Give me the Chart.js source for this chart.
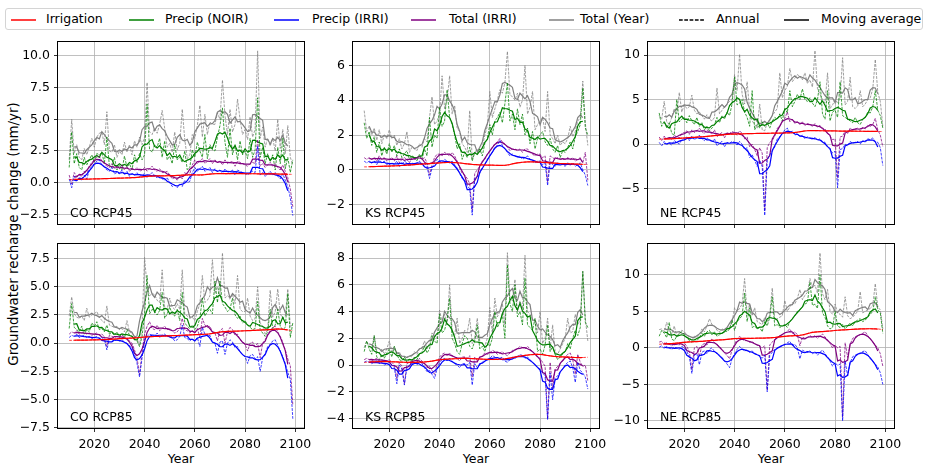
<!DOCTYPE html>
<html>
<head>
<meta charset="utf-8">
<script src="https://cdn.jsdelivr.net/npm/chart.js@4.4.0/dist/chart.umd.min.js"></script>
<style>
  body { margin: 0; background: #fff; width: 927px; height: 466px; position: relative; overflow: hidden;
         font-family: "DejaVu Sans", sans-serif; color: #000; }
  canvas { position: absolute; }
  #legend { position: absolute; left: 5px; top: 8px; width: 918px; height: 22px;
            border: 1px solid #d4d4d4; border-radius: 3px; box-sizing: border-box; }
  .lg-line { position: absolute; }
  .lg-text { position: absolute; font-size: 12.5px; line-height: 16px; white-space: nowrap; }
  .xlab { position: absolute; top: 451px; font-size: 12.5px; line-height: 16px; transform: translateX(-50%); }
  .plab { position: absolute; font-size: 12.5px; line-height: 14px; white-space: nowrap; }
  #ylab { position: absolute; left: 14px; top: 234px; font-size: 13.4px; line-height: 16px; white-space: nowrap;
          transform: translate(-50%, -50%) rotate(-90deg); }
</style>
</head>
<body>
<div id="legend"></div>
<div id="ylab">Groundwater recharge change (mm/yr)</div>
<div class="xlab" style="left:181px">Year</div>
<div class="xlab" style="left:476px">Year</div>
<div class="xlab" style="left:771px">Year</div>
<script>
const years = []
for (let y = 2010; y <= 2099; y++) years.push(y)

// ---- CO RCP45 ----
const coIrrigation45 = [
  0.25,0.25,0.26,0.26,0.27,0.27,0.28,0.28,0.29,0.29,
  0.30,0.30,0.31,0.31,0.32,0.32,0.33,0.34,0.35,0.35,
  0.36,0.36,0.37,0.38,0.38,0.40,0.40,0.41,0.42,0.45,
  0.48,0.50,0.52,0.52,0.53,0.53,0.54,0.54,0.55,0.55,
  0.54,0.55,0.56,0.57,0.58,0.60,0.60,0.61,0.61,0.62,
  0.62,0.62,0.58,0.60,0.64,0.66,0.68,0.70,0.71,0.72,
  0.72,0.72,0.70,0.70,0.71,0.72,0.73,0.72,0.72,0.71,
  0.70,0.70,0.70,0.71,0.71,0.70,0.70,0.69,0.69,0.70,
  0.70,0.70,0.69,0.68,0.68,0.67,0.67,0.66,0.66,0.65]
const coPrecipNoir45 = [
  1.2,4.0,1.5,2.3,1.2,1.0,2.0,1.4,1.8,2.2,
  1.6,2.3,2.2,2.4,1.5,3.6,1.3,1.2,2.0,1.0,
  1.4,1.0,2.1,1.2,1.5,1.0,2.2,1.6,2.3,1.8,
  2.2,6.2,2.6,2.4,3.0,2.8,3.5,2.0,3.3,1.8,
  2.1,1.5,3.0,1.8,2.0,1.6,2.5,1.0,1.2,2.6,
  2.0,3.2,2.5,2.0,3.8,1.9,3.0,2.6,2.5,3.6,
  4.5,5.9,3.2,2.0,4.3,2.2,3.0,1.8,3.3,2.2,
  2.5,1.9,3.5,2.0,2.6,6.7,2.0,2.8,1.5,2.3,
  1.7,2.2,1.0,2.8,1.5,3.5,1.1,2.0,0.8,1.8]
const coPrecipIrri45 = [
  0.3,-0.4,0.5,0.2,0.3,0.2,0.6,0.3,1.0,1.3,
  1.5,1.7,1.8,1.4,1.2,1.0,0.9,1.2,0.7,0.8,
  0.7,1.0,0.6,0.9,0.5,0.7,0.6,0.8,0.5,0.6,
  0.7,0.4,0.6,0.8,0.5,0.4,0.6,0.3,0.2,0.4,
  0.0,-0.3,-0.2,-0.4,-0.1,-0.3,0.2,0.0,0.1,0.8,
  1.2,0.9,1.1,1.3,0.9,1.0,1.2,0.8,1.1,0.9,
  1.0,0.7,1.1,0.8,0.9,1.0,0.6,1.0,0.9,0.8,
  0.7,0.6,0.8,0.9,0.8,2.9,0.6,0.8,0.5,0.7,
  0.9,0.6,0.8,0.5,0.3,0.7,0.2,-0.3,-1.2,-2.6]
const coTotalIrri45 = [
  0.6,-0.1,0.8,0.5,0.6,0.5,0.9,0.6,1.3,1.6,
  1.8,2.0,2.1,1.7,1.5,1.3,1.2,1.5,1.1,1.2,
  1.1,1.4,1.0,1.3,0.9,1.1,1.0,1.2,0.9,1.0,
  1.2,0.9,1.1,1.3,1.0,0.9,1.1,0.8,0.8,0.9,
  0.6,0.3,0.4,0.2,0.5,0.3,0.8,0.6,0.7,1.4,
  1.8,1.5,1.7,1.9,1.5,1.7,1.9,1.5,1.8,1.6,
  1.7,1.4,1.8,1.5,1.6,1.7,1.3,1.7,1.6,1.5,
  1.4,1.3,1.5,1.6,1.5,3.4,1.3,1.5,1.2,1.4,
  1.6,1.3,1.5,1.2,1.0,1.4,0.9,0.4,-0.5,-1.9]
const coTotalYear45 = [
  1.8,5.0,2.3,3.0,2.0,1.8,2.7,2.2,2.8,3.5,
  2.8,3.6,3.9,4.0,3.0,5.6,2.5,2.4,3.0,2.0,
  2.5,2.2,3.2,2.4,3.0,2.2,3.3,2.8,3.6,3.0,
  3.6,7.9,4.0,3.8,4.3,3.9,4.6,5.7,4.3,2.8,
  3.1,2.4,4.0,2.6,3.1,5.8,3.4,1.9,2.2,3.8,
  3.5,4.5,6.1,3.6,5.4,3.8,4.8,4.6,4.6,5.5,
  5.0,8.1,5.3,3.8,5.8,4.0,4.6,6.6,5.0,3.8,
  4.2,3.4,5.2,3.6,4.2,10.4,3.5,4.4,2.8,3.5,
  2.9,3.5,2.5,5.0,2.7,4.2,2.3,4.5,2.0,1.4]

// ---- KS RCP45 ----
const ksIrrigation45 = [
  0.17,0.17,0.18,0.18,0.19,0.19,0.20,0.20,0.21,0.21,
  0.22,0.22,0.23,0.23,0.24,0.25,0.26,0.27,0.28,0.29,
  0.30,0.31,0.32,0.33,0.34,0.35,0.36,0.37,0.38,0.39,
  0.40,0.41,0.42,0.42,0.43,0.43,0.42,0.41,0.40,0.38,
  0.36,0.34,0.33,0.31,0.30,0.29,0.29,0.28,0.28,0.27,
  0.27,0.27,0.26,0.26,0.25,0.25,0.25,0.26,0.30,0.35,
  0.38,0.40,0.42,0.44,0.45,0.46,0.46,0.46,0.45,0.45,
  0.44,0.43,0.42,0.41,0.40,0.39,0.38,0.37,0.36,0.36,
  0.35,0.35,0.34,0.34,0.33,0.33,0.32,0.32,0.31,0.31]
const ksPrecipNoir45 = [
  2.7,1.8,2.2,1.4,1.9,1.0,1.6,0.8,1.3,0.9,
  1.5,1.0,1.4,0.8,1.2,0.7,0.9,1.1,0.6,0.8,
  0.7,0.5,0.9,0.6,1.2,0.8,3.0,1.3,2.0,1.8,
  3.6,2.5,2.8,4.6,3.0,2.6,2.0,1.2,1.5,0.6,
  1.0,0.7,1.3,0.5,1.0,0.9,1.2,0.8,1.5,1.8,
  2.6,2.0,2.8,3.0,3.3,2.7,3.8,5.0,2.8,3.2,
  2.3,3.5,2.6,3.2,2.0,2.4,1.5,2.2,1.2,1.8,
  2.0,2.2,1.6,1.4,1.8,1.2,1.0,1.4,0.7,1.1,
  1.0,1.3,1.6,1.2,1.9,2.2,2.6,4.7,2.4,2.0]
const ksPrecipIrri45 = [
  0.5,0.4,0.5,0.4,0.5,0.3,0.6,0.4,0.5,0.3,
  0.3,0.4,0.3,0.5,0.2,0.3,0.5,0.4,0.2,0.4,
  0.3,0.4,0.5,0.3,0.4,0.2,-0.5,0.1,0.4,0.6,
  0.5,0.4,0.6,0.5,0.4,0.5,0.3,0.1,-0.2,-0.5,
  -0.6,-0.9,-1.1,-2.6,-0.5,-0.4,-0.2,0.1,0.3,0.6,
  0.8,1.0,1.3,1.4,1.7,1.4,1.2,1.0,0.8,0.9,
  0.8,0.7,0.8,0.6,0.7,0.8,0.6,0.5,0.4,0.5,
  0.5,0.3,0.4,-0.9,0.4,0.3,0.2,0.4,0.3,0.3,
  0.2,0.4,0.3,0.4,0.2,0.3,0.4,0.0,-0.3,-0.9]
const ksTotalIrri45 = [
  0.7,0.6,0.7,0.6,0.7,0.5,0.8,0.6,0.7,0.5,
  0.6,0.7,0.5,0.8,0.4,0.6,0.7,0.6,0.4,0.7,
  0.6,0.7,0.8,0.6,0.7,0.4,-0.3,0.3,0.7,0.9,
  0.9,0.8,1.0,0.9,0.8,1.0,0.8,0.5,0.1,-0.2,
  -0.3,-0.5,-0.8,-2.3,-0.2,0.0,0.2,0.5,0.6,0.9,
  1.1,1.3,1.5,1.6,1.8,1.6,1.5,1.3,1.1,1.2,
  1.2,1.1,1.2,1.0,1.2,1.2,1.0,0.9,0.8,0.9,
  0.9,0.7,0.8,-0.7,0.8,0.7,0.6,0.7,0.6,0.6,
  0.6,0.7,0.6,0.7,0.5,0.6,0.7,0.4,1.0,-0.6]
const ksTotalYear45 = [
  3.4,2.2,2.5,2.0,2.4,1.7,2.3,1.5,2.0,1.8,
  2.3,1.8,2.0,1.4,1.8,1.2,1.5,2.2,1.0,1.3,
  1.2,1.1,1.5,1.3,1.8,1.6,3.0,4.2,2.6,2.8,
  3.2,5.4,3.5,4.0,5.4,3.2,3.7,2.4,2.2,1.5,
  1.3,1.0,3.4,0.6,1.0,1.2,1.0,1.3,2.0,2.5,
  4.5,3.0,3.5,4.0,4.6,4.4,5.0,6.8,4.3,4.2,
  4.0,4.4,3.6,4.0,6.0,3.2,3.6,4.5,2.3,2.6,
  2.8,3.0,2.2,4.5,2.0,1.8,1.5,2.0,1.4,1.6,
  1.5,1.8,2.5,1.9,2.2,2.8,3.0,5.1,2.7,1.4]

// ---- NE RCP45 ----
const neIrrigation45 = [
  0.55,0.56,0.57,0.58,0.59,0.60,0.61,0.63,0.65,0.67,
  0.69,0.71,0.73,0.75,0.77,0.79,0.81,0.83,0.85,0.87,
  0.90,0.93,0.96,0.99,1.02,1.05,1.08,1.10,1.11,1.12,
  1.13,1.14,1.15,1.16,1.17,1.18,1.18,1.19,1.19,1.20,
  1.20,1.21,1.21,1.22,1.22,1.23,1.23,1.24,1.24,1.25,
  1.25,1.26,1.27,1.28,1.30,1.33,1.38,1.45,1.50,1.52,
  1.52,1.52,1.51,1.51,1.50,1.50,1.50,1.49,1.49,1.48,
  1.48,1.47,1.47,1.46,1.46,1.46,1.45,1.45,1.45,1.45,
  1.45,1.44,1.44,1.44,1.43,1.43,1.43,1.42,1.42,1.42]
const nePrecipNoir45 = [
  3.5,2.0,2.6,1.8,2.4,1.2,1.0,5.0,2.5,2.8,
  3.0,2.4,3.2,2.6,2.2,3.0,2.0,2.4,1.6,2.0,
  1.5,1.8,2.2,3.0,2.4,3.2,2.8,3.6,3.2,4.5,
  7.5,4.4,4.6,5.0,3.6,3.0,2.0,6.0,1.6,2.2,
  1.8,2.5,2.0,2.4,1.8,2.6,3.0,2.8,3.4,2.6,
  4.0,3.5,6.0,4.2,4.8,5.6,5.0,6.2,5.0,4.8,
  5.2,4.6,4.2,5.0,7.0,3.4,2.8,6.0,2.6,3.6,
  3.8,3.0,7.0,3.2,3.0,2.8,2.6,2.4,3.0,2.4,
  2.2,2.8,3.0,3.6,3.5,4.2,6.0,3.8,3.2,1.8]
const nePrecipIrri45 = [
  0.2,-0.2,0.3,0.0,0.1,-0.1,0.4,0.2,0.0,0.5,
  0.6,0.8,0.4,0.9,0.5,0.7,1.0,0.6,0.4,0.7,
  0.5,0.2,0.6,-0.2,0.1,0.3,-0.3,0.2,0.1,0.3,
  0.2,-0.1,0.3,0.0,-0.6,-0.4,-1.5,-1.2,-1.8,-2.5,
  -1.8,-2.5,-8.0,-1.8,-1.2,-0.8,-0.3,0.6,0.8,1.2,
  1.6,1.8,1.2,1.5,1.0,1.2,0.8,1.0,0.6,0.8,
  0.7,0.5,0.8,0.4,0.6,0.3,0.2,-0.3,-0.6,-1.0,
  -0.8,-4.9,-0.6,-0.5,0.0,-0.2,0.3,0.1,0.2,0.3,
  0.0,0.4,0.2,0.6,0.5,0.7,0.3,0.2,-0.4,-2.4]
const neTotalIrri45 = [
  0.8,0.4,0.9,0.6,0.7,0.5,1.0,0.8,0.7,1.2,
  1.3,1.5,1.1,1.6,1.3,1.5,1.8,1.4,1.2,1.6,
  1.4,1.1,1.6,0.8,1.1,1.3,0.7,1.3,1.2,1.4,
  1.3,1.0,1.5,1.2,0.6,0.8,-0.3,0.0,-0.6,-1.3,
  -0.4,-1.0,-7.5,-0.4,0.2,0.4,0.9,1.8,2.0,2.5,
  2.9,3.6,2.5,2.8,2.3,2.5,2.2,2.5,2.1,2.3,
  2.2,2.0,2.3,1.9,2.1,1.8,1.7,1.2,0.9,0.5,
  0.6,-3.8,0.8,0.9,1.5,1.2,1.8,1.6,1.7,1.8,
  1.5,1.9,1.7,2.1,2.0,2.2,2.9,1.6,1.0,-0.3]
const neTotalYear45 = [
  3.2,2.8,4.8,2.5,2.2,3.0,4.0,3.4,5.8,3.6,
  4.4,4.0,4.2,5.5,3.8,3.4,3.6,3.2,2.8,3.3,
  2.8,2.6,3.0,6.3,3.4,3.8,4.2,4.5,4.8,5.0,
  7.8,6.0,10.1,5.6,4.5,7.0,3.8,2.6,2.2,1.8,
  4.5,1.6,1.5,2.4,2.8,3.2,3.6,4.0,8.0,5.2,
  6.0,6.5,8.5,7.0,7.4,7.8,7.6,7.2,8.0,6.8,
  7.2,6.4,10.5,6.2,5.6,5.0,4.6,8.0,4.0,4.4,
  5.0,4.6,5.2,9.7,4.4,4.8,7.5,4.2,4.0,4.3,
  6.0,4.2,4.5,5.0,5.2,6.2,9.5,5.8,4.8,2.0]

// ---- CO RCP85 ----
const coIrrigation85 = [
  0.25,0.25,0.26,0.26,0.27,0.27,0.27,0.28,0.28,0.28,
  0.29,0.30,0.30,0.31,0.32,0.33,0.34,0.35,0.36,0.38,
  0.40,0.41,0.42,0.43,0.44,0.45,0.46,0.48,0.50,0.52,
  0.55,0.56,0.57,0.58,0.59,0.60,0.61,0.62,0.63,0.64,
  0.65,0.66,0.67,0.68,0.69,0.70,0.71,0.72,0.73,0.74,
  0.75,0.76,0.77,0.78,0.79,0.80,0.82,0.85,0.90,0.96,
  1.00,1.02,1.03,1.04,1.05,1.05,1.06,1.07,1.08,1.09,
  1.10,1.11,1.12,1.13,1.14,1.15,1.16,1.17,1.18,1.19,
  1.20,1.22,1.25,1.28,1.27,1.24,1.20,1.17,1.14,1.10]
const coPrecipNoir85 = [
  1.3,3.5,1.4,1.2,1.0,1.5,0.8,1.2,1.0,1.8,
  1.5,1.9,1.2,1.3,1.0,1.6,0.8,0.9,0.7,1.0,
  0.6,0.8,0.5,1.2,0.7,0.6,0.4,0.2,-0.3,0.6,
  2.5,6.0,2.6,3.0,2.8,2.5,2.9,4.5,2.2,2.6,
  3.2,2.6,2.4,3.0,2.0,4.5,1.8,1.5,1.3,1.6,
  1.2,1.5,2.2,4.0,2.4,2.8,3.0,2.6,5.5,3.6,
  5.5,3.5,3.2,2.8,3.0,4.0,2.5,2.2,2.4,1.8,
  2.0,1.6,1.4,1.2,1.3,3.7,1.2,0.9,0.6,1.0,
  3.0,1.3,1.6,3.0,1.5,1.2,1.4,4.4,0.5,1.8]
const coPrecipIrri85 = [
  0.5,0.7,0.6,0.8,0.5,0.6,0.7,0.5,0.6,0.4,
  0.5,0.6,0.4,0.5,0.3,-0.6,0.4,0.3,0.2,0.3,
  0.2,0.3,0.1,0.0,-0.2,-0.4,-1.0,-1.8,-3.0,-1.3,
  0.3,0.6,0.8,0.7,0.6,0.9,0.5,0.7,0.8,0.6,
  0.7,0.5,0.2,0.3,0.6,1.6,0.5,0.4,0.2,0.4,
  0.2,0.5,-0.3,1.4,0.8,0.6,0.7,0.1,0.0,-0.9,
  0.1,0.2,-1.0,0.0,0.3,0.1,-0.4,-0.3,-0.8,-1.0,
  -1.2,-1.8,-1.1,-1.0,-1.4,-1.2,-2.5,-1.3,-0.9,-0.3,
  -0.1,0.2,0.3,-0.2,-0.7,-1.2,-1.8,-2.6,-3.2,-6.7]
const coTotalIrri85 = [
  0.8,1.0,0.9,1.1,0.8,0.9,1.0,0.8,0.9,0.7,
  0.8,0.9,0.7,0.8,0.6,-0.3,0.7,0.6,0.5,0.6,
  0.5,0.7,0.5,0.4,0.2,0.0,-0.6,-1.3,-2.8,-0.8,
  0.8,1.5,1.9,1.3,1.2,1.6,1.1,1.3,1.5,1.2,
  1.3,1.1,0.9,1.0,1.3,2.2,1.2,1.1,0.9,1.1,
  0.9,1.3,0.5,2.2,1.6,1.4,1.5,1.0,0.9,0.2,
  1.1,1.3,0.0,1.0,1.4,1.2,0.7,0.8,0.3,0.1,
  -0.1,-0.7,0.0,0.1,-0.3,0.0,-1.3,0.0,0.3,0.8,
  1.1,1.4,1.5,1.0,0.6,0.1,-0.6,-1.4,-2.0,-5.5]
const coTotalYear85 = [
  2.4,4.1,2.6,2.3,2.2,2.4,2.0,3.1,2.3,2.5,
  2.6,2.8,2.3,2.0,1.8,3.3,1.6,1.5,1.4,1.5,
  1.2,1.3,1.0,2.0,1.0,0.9,0.6,0.4,-0.2,1.5,
  7.6,5.0,4.2,4.4,4.3,3.8,3.6,6.5,3.2,3.0,
  4.0,3.2,3.0,3.5,3.0,6.5,2.6,2.4,2.2,2.3,
  2.0,2.8,3.5,6.0,3.6,3.8,4.2,7.4,4.4,5.0,
  4.2,8.0,4.0,4.2,4.0,4.3,3.5,6.0,3.0,2.8,
  2.8,4.0,2.4,2.0,2.2,5.0,1.8,1.5,0.8,1.2,
  4.7,2.3,2.8,4.8,2.6,2.2,2.4,4.8,1.5,1.6]

// ---- KS RCP85 ----
const ksIrrigation85 = [
  0.20,0.21,0.22,0.23,0.24,0.25,0.25,0.26,0.26,0.26,
  0.25,0.25,0.24,0.23,0.22,0.21,0.20,0.20,0.20,0.20,
  0.20,0.21,0.21,0.22,0.23,0.24,0.26,0.29,0.33,0.37,
  0.40,0.42,0.43,0.44,0.45,0.46,0.47,0.48,0.49,0.50,
  0.50,0.50,0.49,0.48,0.47,0.46,0.45,0.44,0.43,0.42,
  0.41,0.41,0.41,0.42,0.43,0.44,0.45,0.48,0.52,0.56,
  0.60,0.63,0.66,0.69,0.72,0.75,0.77,0.79,0.80,0.81,
  0.80,0.78,0.75,0.71,0.68,0.65,0.63,0.62,0.61,0.60,
  0.60,0.59,0.58,0.57,0.56,0.55,0.55,0.56,0.57,0.58]
const ksPrecipNoir85 = [
  1.0,1.8,1.2,0.8,2.2,0.6,0.4,0.8,0.5,0.9,
  1.2,0.6,1.4,0.8,0.4,0.3,0.6,0.2,0.4,0.3,
  0.6,0.4,0.8,1.0,1.4,0.9,1.2,2.2,1.8,1.6,
  3.8,2.4,2.6,3.4,5.0,2.0,1.6,1.0,0.8,1.6,
  2.2,2.0,1.4,1.2,1.8,3.0,1.2,1.4,1.0,1.6,
  1.4,2.0,4.0,2.8,3.2,3.8,2.0,7.5,4.6,4.0,
  6.0,3.6,4.0,3.0,6.5,3.0,2.8,2.6,3.5,1.0,
  1.2,0.8,1.5,3.0,1.0,1.4,0.8,0.4,0.6,0.8,
  1.0,1.6,1.2,2.0,2.6,2.2,2.8,7.0,3.2,2.8]
const ksPrecipIrri85 = [
  0.2,0.3,0.2,0.1,0.2,0.3,0.1,0.2,0.0,0.1,
  0.2,0.0,-0.2,-1.4,0.0,-0.3,-1.5,-0.2,0.0,0.1,
  0.2,0.0,0.3,0.1,-0.2,-0.5,-0.4,-0.7,-1.0,-0.3,
  0.2,0.4,0.5,0.3,0.5,0.3,0.1,0.0,-0.2,0.1,
  0.1,0.0,0.2,-1.5,0.1,-0.2,0.0,0.2,0.4,0.3,
  0.5,0.7,0.6,0.4,0.5,0.6,0.3,0.2,0.4,0.6,
  0.5,0.6,0.8,0.7,0.5,0.6,0.4,0.2,0.0,-0.2,
  -0.3,-0.6,-0.8,-4.1,-0.6,-2.6,-1.0,-0.8,-0.5,-0.3,
  0.0,0.2,0.3,-0.2,-1.3,0.2,-0.4,-0.6,-0.9,-1.8]
const ksTotalIrri85 = [
  0.4,0.5,0.4,0.3,0.4,0.5,0.3,0.4,0.3,0.3,
  0.4,0.2,0.0,-1.0,0.2,-0.1,-1.4,0.1,0.2,0.3,
  0.4,0.2,0.5,0.3,0.1,-0.2,-0.1,-0.4,-0.7,0.1,
  0.6,0.8,0.9,0.7,0.9,0.7,0.6,0.5,0.3,0.6,
  0.6,0.5,0.7,-0.9,0.6,0.3,0.5,0.7,0.9,0.8,
  0.9,1.1,1.0,0.8,0.9,1.0,0.8,0.7,0.9,1.1,
  1.1,1.2,1.4,1.3,1.2,1.4,1.2,1.0,0.8,0.6,
  0.5,0.2,-0.1,-4.0,0.2,-1.8,-0.3,-0.1,0.1,0.3,
  0.6,0.8,0.9,0.4,-0.7,0.8,0.2,-0.1,0.0,-1.2]
const ksTotalYear85 = [
  1.3,1.8,1.4,1.2,2.2,1.0,0.9,1.2,0.8,1.2,
  1.8,1.0,1.4,0.8,1.0,0.5,0.4,0.6,0.7,0.6,
  1.0,0.8,1.2,1.3,1.8,1.2,1.6,2.4,2.2,2.0,
  4.1,3.2,3.8,3.0,6.0,2.6,2.2,3.5,1.6,2.0,
  2.6,2.4,3.5,1.6,2.0,3.5,1.8,1.6,1.4,2.0,
  4.3,2.4,5.0,3.6,4.0,4.6,3.0,8.4,5.0,4.8,
  6.4,4.0,4.8,4.2,8.2,4.0,3.8,3.4,3.2,2.4,
  4.0,1.6,2.0,3.5,1.2,3.0,1.0,0.8,1.2,1.6,
  2.0,3.5,2.4,2.5,3.8,3.0,3.4,7.0,3.5,1.8]

// ---- NE RCP85 ----
const neIrrigation85 = [
  0.50,0.52,0.54,0.56,0.58,0.60,0.63,0.66,0.70,0.74,
  0.78,0.80,0.82,0.84,0.85,0.86,0.88,0.90,0.93,0.96,
  0.99,1.02,1.05,1.07,1.09,1.11,1.13,1.16,1.20,1.25,
  1.30,1.30,1.30,1.30,1.31,1.31,1.31,1.32,1.32,1.33,
  1.33,1.34,1.35,1.36,1.37,1.39,1.42,1.46,1.50,1.55,
  1.60,1.62,1.64,1.66,1.68,1.70,1.72,1.75,1.80,1.95,
  2.10,2.15,2.18,2.20,2.22,2.24,2.26,2.28,2.30,2.35,
  2.40,2.42,2.44,2.46,2.48,2.50,2.52,2.54,2.56,2.58,
  2.60,2.61,2.62,2.62,2.63,2.62,2.61,2.60,2.55,2.50]
const nePrecipNoir85 = [
  1.6,2.4,2.0,1.4,3.5,1.2,1.0,1.6,2.0,2.2,
  1.8,1.4,1.0,0.8,1.2,1.0,1.4,2.0,1.6,2.2,
  2.4,1.8,2.2,1.6,1.8,2.0,2.4,2.2,2.6,3.8,
  2.4,3.6,4.0,4.4,7.5,3.6,5.5,2.8,3.0,2.6,
  2.8,2.2,3.6,3.0,4.2,7.0,3.0,3.2,2.8,3.0,
  3.2,2.8,3.6,4.0,4.4,5.0,5.2,5.6,6.0,6.2,
  9.0,5.8,6.0,5.4,10.0,4.8,4.2,3.0,2.6,2.8,
  5.0,3.0,2.8,3.2,2.6,3.0,3.4,3.0,3.6,3.8,
  4.0,3.6,3.8,4.2,4.6,5.0,7.0,5.2,4.8,2.0]
const nePrecipIrri85 = [
  0.1,0.3,-0.1,0.2,0.0,-0.2,0.1,0.0,-0.2,0.2,
  0.0,-0.5,-1.2,-3.5,-1.0,-0.8,-2.3,-0.6,-0.4,-0.8,
  -0.2,0.0,-0.5,-0.8,-1.0,-1.3,-1.8,-2.2,-2.7,-1.5,
  -0.8,-0.2,0.2,-0.2,-0.4,-0.3,-0.6,-0.4,-0.8,-0.9,
  -1.2,-1.4,-1.0,-6.0,-1.0,-0.6,-0.2,0.0,0.2,0.3,
  0.4,0.7,0.9,0.3,0.5,0.0,-1.5,-0.3,-0.5,-0.6,
  -0.4,-0.8,-0.5,-1.0,-0.6,-0.3,-0.8,-1.2,-1.8,-2.5,
  -2.0,-2.4,-2.2,-10.0,-1.8,-3.8,-2.0,-1.2,-1.0,-0.8,
  -0.8,-0.5,-0.4,-0.9,-1.5,-1.8,-2.2,-2.6,-3.4,-5.0]
const neTotalIrri85 = [
  0.8,0.9,0.4,0.7,0.5,0.3,0.6,0.5,0.4,0.8,
  0.7,0.2,-0.5,-3.0,0.0,0.2,-1.2,0.4,0.6,0.4,
  1.0,1.2,0.7,0.4,0.2,-0.2,-0.7,-1.0,-1.5,-0.3,
  0.5,1.2,1.6,1.2,1.0,1.0,0.8,0.9,0.6,0.4,
  0.2,0.0,0.3,-5.8,0.4,0.8,1.2,1.4,1.7,1.8,
  2.0,2.3,2.6,2.0,2.2,1.8,0.3,1.5,1.3,1.4,
  1.7,1.4,1.7,1.3,1.6,1.9,1.5,1.1,0.6,0.0,
  0.4,0.0,0.2,-9.5,0.7,-1.3,0.5,1.3,1.5,1.7,
  1.8,2.0,2.2,1.7,1.2,0.8,0.4,0.0,-0.8,-2.5]
const neTotalYear85 = [
  2.5,2.6,2.2,3.5,2.4,1.8,3.0,1.6,2.0,2.4,
  2.2,1.8,1.4,1.0,1.6,1.4,1.8,2.6,2.2,3.0,
  4.0,3.2,3.0,2.4,2.2,2.6,2.4,2.6,2.8,3.5,
  5.5,5.0,5.4,6.0,9.5,4.6,6.0,4.4,5.5,3.6,
  3.4,3.2,4.2,3.6,4.6,8.2,3.8,4.0,4.2,4.4,
  6.5,5.0,5.6,6.2,6.0,6.8,8.0,6.6,7.2,7.6,
  9.5,8.2,8.6,7.5,13.0,7.4,6.6,8.0,5.0,4.6,
  6.0,4.8,4.6,4.2,7.0,4.4,4.0,4.2,4.6,5.0,
  7.7,4.8,5.0,5.2,5.4,5.8,8.8,5.6,5.2,2.6]

const xTicks = [2020, 2040, 2060, 2080, 2100]
const seriesNames = ['Irrigation', 'Precip (NOIR)', 'Precip (IRRI)', 'Total (IRRI)', 'Total (Year)']
const seriesColors = ['#ff0000', '#008000', '#0000ff', '#800080', '#808080']

const panels = [
  { label: 'CO RCP45', left: 58, top: 42, w: 246, h: 182, yMin: -3.26, yMax: 11.10,
    yTicks: [-2.5, 0, 2.5, 5, 7.5, 10], dec: 1, showX: false,
    data: [coIrrigation45, coPrecipNoir45, coPrecipIrri45, coTotalIrri45, coTotalYear45] },
  { label: 'KS RCP45', left: 353, top: 42, w: 246, h: 182, yMin: -3.11, yMax: 7.34,
    yTicks: [-2, 0, 2, 4, 6], dec: 0, showX: false,
    data: [ksIrrigation45, ksPrecipNoir45, ksPrecipIrri45, ksTotalIrri45, ksTotalYear45] },
  { label: 'NE RCP45', left: 648, top: 42, w: 246, h: 182, yMin: -8.96, yMax: 11.46,
    yTicks: [-5, 0, 5, 10], dec: 0, showX: false,
    data: [neIrrigation45, nePrecipNoir45, nePrecipIrri45, neTotalIrri45, neTotalYear45] },
  { label: 'CO RCP85', left: 58, top: 244, w: 246, h: 184, yMin: -7.52, yMax: 8.79,
    yTicks: [-7.5, -5, -2.5, 0, 2.5, 5, 7.5], dec: 1, showX: true,
    data: [coIrrigation85, coPrecipNoir85, coPrecipIrri85, coTotalIrri85, coTotalYear85] },
  { label: 'KS RCP85', left: 353, top: 244, w: 246, h: 184, yMin: -4.71, yMax: 9.05,
    yTicks: [-4, -2, 0, 2, 4, 6, 8], dec: 0, showX: true,
    data: [ksIrrigation85, ksPrecipNoir85, ksPrecipIrri85, ksTotalIrri85, ksTotalYear85] },
  { label: 'NE RCP85', left: 648, top: 244, w: 246, h: 184, yMin: -10.96, yMax: 14.22,
    yTicks: [-10, -5, 0, 5, 10], dec: 0, showX: true,
    data: [neIrrigation85, nePrecipNoir85, nePrecipIrri85, neTotalIrri85, neTotalYear85] }
]

function movingAverage (vals) {
  const out = []
  for (let i = 2; i < vals.length - 2; i++) {
    const win = vals.slice(i - 2, i + 3)
    out.push({ x: years[i], y: win.reduce((a, b) => a + b, 0) / win.length })
  }
  return out
}

function fmt (v, dec) {
  const s = Math.abs(v).toFixed(dec)
  return v < 0 ? '\u2212' + s : s
}

const FONT = { family: 'DejaVu Sans', size: 12.5 }
const PAD_L = 55, PAD_T = 10, PAD_R = 20, PAD_B = 30

const frame = {
  id: 'frame',
  afterDraw (chart) {
    const { ctx, chartArea: a } = chart
    ctx.save()
    ctx.strokeStyle = '#000'
    ctx.lineWidth = 1
    ctx.strokeRect(a.left - 0.5, a.top - 0.5, a.right - a.left + 1, a.bottom - a.top + 1)
    ctx.restore()
  }
}

panels.forEach(p => {
  const cv = document.createElement('canvas')
  cv.width = p.w + PAD_L + PAD_R
  cv.height = p.h + PAD_T + PAD_B
  cv.style.left = (p.left - PAD_L) + 'px'
  cv.style.top = (p.top - PAD_T) + 'px'
  document.body.appendChild(cv)

  const lab = document.createElement('div')
  lab.className = 'plab'
  lab.textContent = p.label
  lab.style.left = (p.left + 12) + 'px'
  lab.style.top = (p.top + p.h - 18) + 'px'
  document.body.appendChild(lab)

  const datasets = []
  // drawing order: first dataset ends up on top
  const order = [0, 2, 3, 1, 4]
  order.forEach(k => {
    const vals = p.data[k]
    datasets.push({
      label: seriesNames[k] + ' moving average',
      data: movingAverage(vals),
      borderColor: seriesColors[k],
      borderWidth: 1.2
    })
    datasets.push({
      label: seriesNames[k] + ' annual',
      data: years.map((y, i) => ({ x: y, y: vals[i] })),
      borderColor: seriesColors[k],
      borderWidth: 0.75,
      borderDash: [2.8, 1.2]
    })
  })

  new Chart(cv, {
    type: 'line',
    data: { datasets },
    options: {
      responsive: false,
      animation: false,
      layout: { padding: { left: 0, top: PAD_T, right: PAD_R, bottom: 0 } },
      elements: { point: { radius: 0 }, line: { tension: 0, fill: false } },
      plugins: { legend: { display: false }, tooltip: { enabled: false } },
      scales: {
        x: {
          type: 'linear', min: 2005.55, max: 2103.45,
          afterBuildTicks: s => { s.ticks = xTicks.map(v => ({ value: v })) },
          afterFit: s => { s.height = PAD_B; s.paddingLeft = 0; s.paddingRight = 0 },
          grid: { color: '#b0b0b0', lineWidth: 0.8, tickColor: '#000', tickLength: 4 },
          border: { display: false },
          ticks: { display: p.showX, color: '#000', font: FONT, padding: 5, maxRotation: 0,
                   callback: v => String(v) }
        },
        y: {
          type: 'linear', min: p.yMin, max: p.yMax,
          afterBuildTicks: s => { s.ticks = p.yTicks.map(v => ({ value: v })) },
          afterFit: s => { s.width = PAD_L; s.paddingTop = 0; s.paddingBottom = 0 },
          grid: { color: '#b0b0b0', lineWidth: 0.8, tickColor: '#000', tickLength: 4 },
          border: { display: false },
          ticks: { color: '#000', font: FONT, padding: 4, callback: v => fmt(v, p.dec) }
        }
      }
    },
    plugins: [frame]
  })
})

// legend
const legendItems = [
  { text: 'Irrigation', color: '#ff0000', x: 11, tx: 46 },
  { text: 'Precip (NOIR)', color: '#008000', x: 129, tx: 165 },
  { text: 'Precip (IRRI)', color: '#0000ff', x: 274, tx: 312 },
  { text: 'Total (IRRI)', color: '#800080', x: 411, tx: 449 },
  { text: 'Total (Year)', color: '#808080', x: 549, tx: 580 },
  { text: 'Annual', color: '#000', x: 679, tx: 716, dash: '3.7 1.6' },
  { text: 'Moving average', color: '#000', x: 784, tx: 821 }
]
const lg = document.getElementById('legend')
legendItems.forEach(it => {
  const svg = document.createElementNS('http://www.w3.org/2000/svg', 'svg')
  svg.setAttribute('width', 26); svg.setAttribute('height', 4)
  svg.setAttribute('class', 'lg-line')
  svg.style.left = (it.x - 6) + 'px'
  svg.style.top = '8.5px'
  const ln = document.createElementNS('http://www.w3.org/2000/svg', 'line')
  ln.setAttribute('x1', 0); ln.setAttribute('x2', 25); ln.setAttribute('y1', 2); ln.setAttribute('y2', 2)
  ln.setAttribute('stroke', it.color); ln.setAttribute('stroke-width', 1.5)
  if (it.dash) ln.setAttribute('stroke-dasharray', it.dash)
  svg.appendChild(ln)
  lg.appendChild(svg)
  const t = document.createElement('div')
  t.className = 'lg-text'
  t.style.left = (it.tx - 6) + 'px'
  t.style.top = '2px'
  t.textContent = it.text
  lg.appendChild(t)
})
</script>
</body>
</html>
